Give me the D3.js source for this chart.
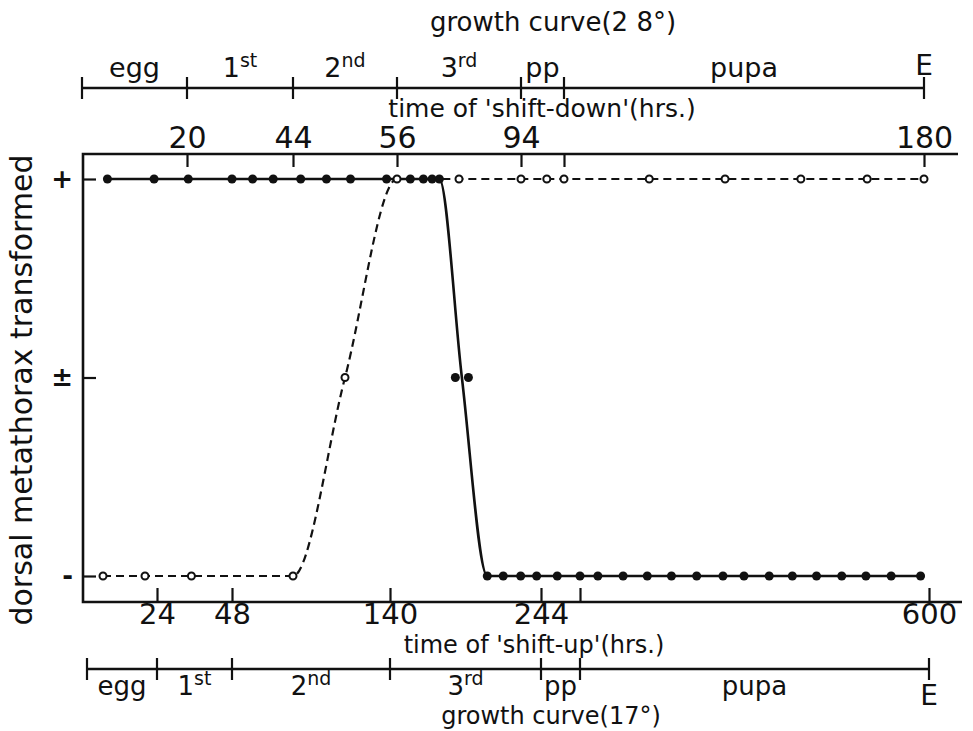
<!DOCTYPE html>
<html>
<head>
<meta charset="utf-8">
<script src="https://cdn.jsdelivr.net/npm/d3@7"></script>
<style>
body{margin:0;background:#fff;}
text{font-family:"DejaVu Sans",sans-serif;fill:#111;}
</style>
</head>
<body>
<svg id="chart" width="973" height="731"></svg>
<script>
// shift-down series (hours at 28 deg), open circles, dashed line
var downHours=[4,12,21,44,50,56,75,94,100,104,122,138,154,168,180];
var downState=[0,0,0,0,0.5,1,1,1,1,1,1,1,1,1,1];

// shift-up series (hours at 17 deg), filled circles, solid line
var upHours=[7,23,34,48,60,72,88,103,117,138,154,163,169,174,185,194,207,218,230,241,254,268,285,309,332,355,379,404,424,448,470,493,517,540,564,592];
var upState=[1,1,1,1,1,1,1,1,1,1,1,1,1,1,0.5,0.5,0,0,0,0,0,0,0,0,0,0,0,0,0,0,0,0,0,0,0,0];

// growth stages
var stageBase=["egg","1","2","3","pp","pupa"];
var stageSup=["","st","nd","rd","",""];
var stageEnd28=[20,44,56,94,104,180];
var stageEnd17=[24,48,140,244,268,600];
var tickLabels28=["20","44","56","94","","180"];
var tickLabels17=["24","48","140","244","","600"];

var stateTicks=[1,0.5,0];
var stateLabels=["+","\u00b1","-"];

var svg=d3.select("#chart");
var ink="#111";

var x28=d3.scaleLinear()
  .domain([0].concat(stageEnd28))
  .range([82,187,293,397,521,564,924]);
var x17=d3.scaleLinear()
  .domain([0].concat(stageEnd17))
  .range([87,157,232,390,541,580,929]);
var y=d3.scaleLinear().domain([0,1]).range([576,179]);

var frameTop=154, frameBottom=602, frameLeft=83;

// frame
svg.append("path")
  .attr("d","M958,"+frameTop+"H"+frameLeft+"V"+frameBottom+"H962")
  .attr("fill","none").attr("stroke",ink).attr("stroke-width",2.6);

// top axis (shift-down)
var topAxis=svg.append("g")
  .attr("transform","translate(0,"+frameTop+")")
  .call(d3.axisTop(x28)
    .tickValues(stageEnd28)
    .tickSizeInner(-13).tickSizeOuter(0).tickPadding(6)
    .tickFormat(function(d,i){return tickLabels28[i];}));
topAxis.select(".domain").remove();
topAxis.selectAll("line").attr("stroke",ink).attr("stroke-width",2.2);
topAxis.selectAll("text").attr("font-size",30).attr("font-family","DejaVu Sans").attr("fill",ink);

// bottom axis (shift-up)
var bottomAxis=svg.append("g")
  .attr("transform","translate(0,"+frameBottom+")")
  .call(d3.axisBottom(x17)
    .tickValues(stageEnd17)
    .tickSizeInner(-14).tickSizeOuter(0).tickPadding(1)
    .tickFormat(function(d,i){return tickLabels17[i];}));
bottomAxis.select(".domain").remove();
bottomAxis.selectAll("line").attr("stroke",ink).attr("stroke-width",2.2);
bottomAxis.selectAll("text").attr("font-size",29).attr("font-family","DejaVu Sans").attr("fill",ink);

// left axis
var leftAxis=svg.append("g")
  .attr("transform","translate("+frameLeft+",0)")
  .call(d3.axisLeft(y)
    .tickValues(stateTicks)
    .tickSizeInner(-13).tickSizeOuter(0).tickPadding(10)
    .tickFormat(function(d,i){return stateLabels[i];}));
leftAxis.select(".domain").remove();
leftAxis.selectAll("line").attr("stroke",ink).attr("stroke-width",2.2);
leftAxis.selectAll("text").attr("font-size",26).attr("font-weight","bold").attr("font-family","DejaVu Sans").attr("fill",ink);

// growth curve bars
function growthBar(scale,ends,yLine,labelY,eY,fs){
  var g=svg.append("g");
  var bounds=[0].concat(ends);
  g.append("line")
    .attr("x1",scale(0)).attr("x2",scale(ends[ends.length-1]))
    .attr("y1",yLine).attr("y2",yLine)
    .attr("stroke",ink).attr("stroke-width",2.4);
  g.selectAll(".bt").data(bounds).enter().append("line")
    .attr("x1",function(d){return scale(d);})
    .attr("x2",function(d){return scale(d);})
    .attr("y1",yLine-11).attr("y2",yLine+11)
    .attr("stroke",ink).attr("stroke-width",2.2);
  var t=g.selectAll(".st").data(stageBase).enter().append("text")
    .attr("x",function(d,i){return (scale(bounds[i])+scale(bounds[i+1]))/2;})
    .attr("y",labelY)
    .attr("text-anchor","middle")
    .attr("font-size",fs);
  t.append("tspan").text(function(d){return d;});
  t.append("tspan")
    .attr("dy",-10).attr("font-size",19)
    .text(function(d,i){return stageSup[i];});
  g.append("text")
    .attr("x",scale(ends[ends.length-1])).attr("y",eY)
    .attr("text-anchor","middle").attr("font-size",28)
    .text("E");
}
growthBar(x28,stageEnd28,88,77,75,27);
growthBar(x17,stageEnd17,669,695,705,26);

// axis titles
svg.append("text").attr("x",553).attr("y",31).attr("text-anchor","middle")
  .attr("font-size",26).text("growth curve(2 8\u00b0)");
svg.append("text").attr("x",542).attr("y",117).attr("text-anchor","middle")
  .attr("font-size",25).text("time of 'shift-down'(hrs.)");
svg.append("text").attr("x",534).attr("y",653).attr("text-anchor","middle")
  .attr("font-size",24).text("time of 'shift-up'(hrs.)");
svg.append("text").attr("x",551).attr("y",724).attr("text-anchor","middle")
  .attr("font-size",24).text("growth curve(17\u00b0)");
svg.append("text")
  .attr("transform","translate(32,390) rotate(-90)")
  .attr("text-anchor","middle").attr("font-size",30)
  .text("dorsal metathorax transformed");

// data
var downPts=downHours.map(function(h,i){return {h:h,s:downState[i]};});
var upPts=upHours.map(function(h,i){return {h:h,s:upState[i]};});

// solid line passes through the mean of the intermediate points
var upMid=upPts.filter(function(d){return d.s==0.5;});
var upLine=upPts.filter(function(d){return d.s!=0.5;})
  .concat([{h:d3.mean(upMid,function(d){return d.h;}),s:0.5}])
  .sort(function(a,b){return a.h-b.h;});

var lineDown=d3.line()
  .x(function(d){return x28(d.h);})
  .y(function(d){return y(d.s);})
  .curve(d3.curveMonotoneX);
var lineUp=d3.line()
  .x(function(d){return x17(d.h);})
  .y(function(d){return y(d.s);})
  .curve(d3.curveMonotoneX);

svg.append("path").datum(downPts)
  .attr("d",lineDown)
  .attr("fill","none").attr("stroke",ink)
  .attr("stroke-width",2.2).attr("stroke-dasharray","8,5");

svg.append("path").datum(upLine)
  .attr("d",lineUp)
  .attr("fill","none").attr("stroke",ink)
  .attr("stroke-width",2.6);

svg.selectAll(".up").data(upPts).enter().append("circle")
  .attr("cx",function(d){return x17(d.h);})
  .attr("cy",function(d){return y(d.s);})
  .attr("r",4.5).attr("fill",ink);

svg.selectAll(".down").data(downPts).enter().append("circle")
  .attr("cx",function(d){return x28(d.h);})
  .attr("cy",function(d){return y(d.s);})
  .attr("r",3.5).attr("fill","#fff")
  .attr("stroke",ink).attr("stroke-width",2);
</script>
</body>
</html>
